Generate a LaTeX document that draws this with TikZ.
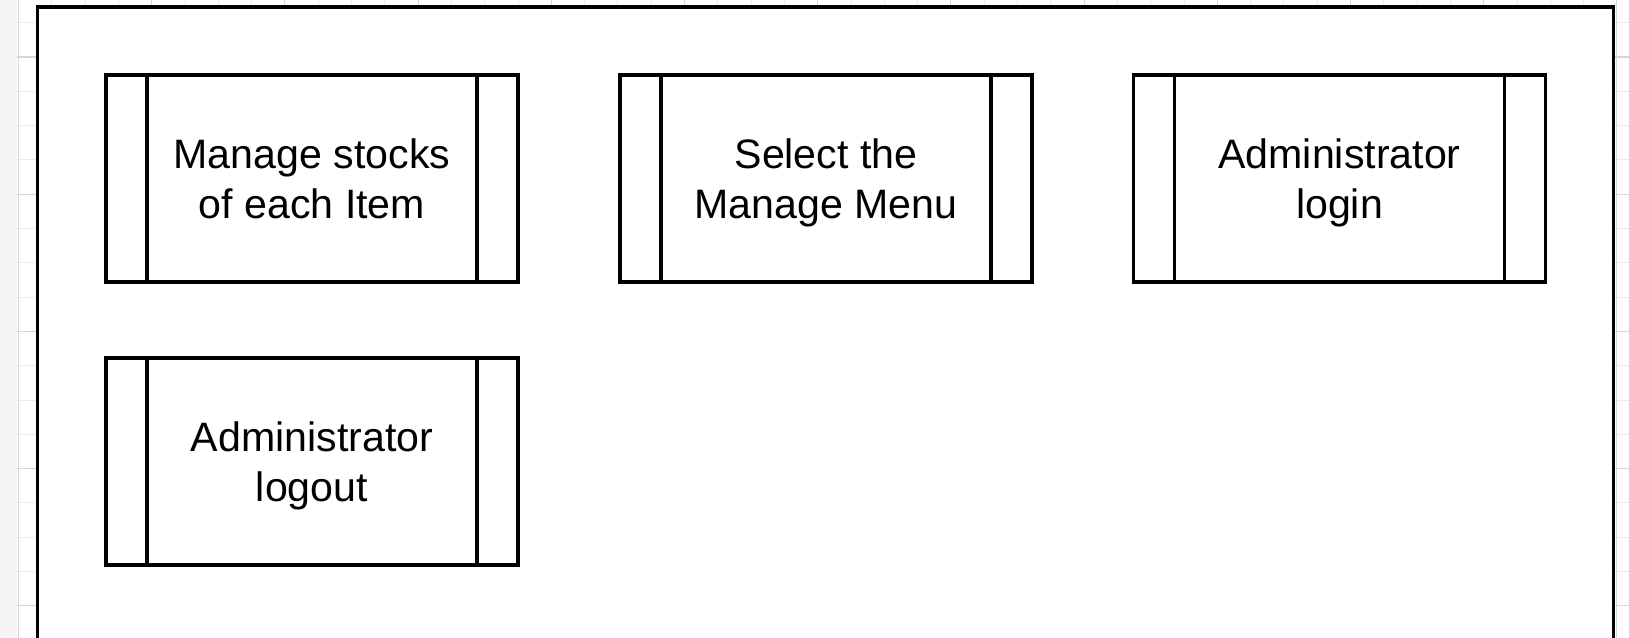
\documentclass[tikz,border=0pt]{standalone}
\usepackage{fontspec}
\setmainfont{Liberation Sans}
\colorlet{sheetminor}{black!8}
\colorlet{sheetmajor}{black!16}
\tikzset{
	procbox/.style={draw, line width=1.9pt, fill=white,
		minimum width=8.24cm, minimum height=4.14cm, align=center,
		text depth=0pt, font=\fontsize{23.4}{28.5}\selectfont,
		path picture={
			\draw[line width=1.9pt]
				([xshift=0.82cm]path picture bounding box.north west) --
				([xshift=0.82cm]path picture bounding box.south west);
			\draw[line width=1.9pt]
				([xshift=-0.82cm]path picture bounding box.north east) --
				([xshift=-0.82cm]path picture bounding box.south east);
		}},
}
\begin{document}
\begin{tikzpicture}[x=0.02cm, y=0.02cm]
		\clip (0,0) rectangle (1629,-638);
		\fill[white] (0,0) rectangle (1629,-638);
		\fill[black!4] (0,0) rectangle (17,-638);

		% sheet grid behind the frame
		\begin{scope}
			\clip (17,0) rectangle (1629,-638);
			\draw[sheetminor, line width=0.5pt, shift={(18.5,-22.7)}]
				(-60,-700) grid[xstep=33.3, ystep=34.3] (1700,60);
			\draw[sheetmajor, line width=0.6pt, shift={(18.5,-57)}]
				(-60,-700) grid[xstep=133.2, ystep=137.2] (1700,60);
		\end{scope}

		\draw[line width=1.9pt, fill=white] (37.5,-7) rectangle (1613.5,-700);

		\node[procbox] at (312,-178.5) (stocks) {Manage stocks\\of each Item};
		\node[procbox] at (826,-178.5) (menu) {Select the\\Manage Menu};
		\node[procbox] at (1339.5,-178.5) (login) {Administrator\\login};
		\node[procbox] at (312,-461.5) (logout) {Administrator\\logout};
\end{tikzpicture}
\end{document}
